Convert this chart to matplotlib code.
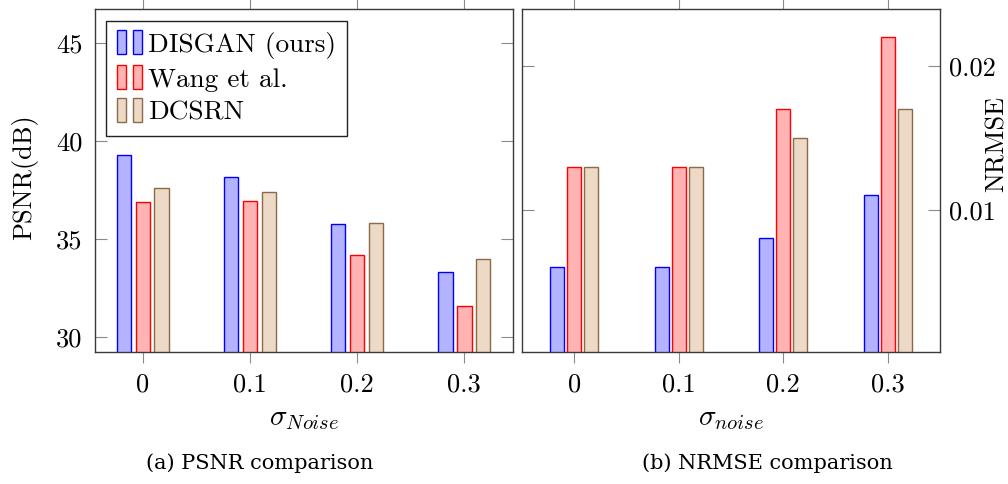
import matplotlib
matplotlib.use('Agg')
import matplotlib.pyplot as plt
from matplotlib.patches import Rectangle
from matplotlib.legend_handler import HandlerBase

## data
noise_levels = [0.0, 0.1, 0.2, 0.3]
noise_labels = ['0', '0.1', '0.2', '0.3']
methods = ['DISGAN (ours)', 'Wang et al.', 'DCSRN']

psnr_disgan = [39.32, 38.16, 35.77, 33.35]
psnr_wang = [36.92, 36.94, 34.18, 31.61]
psnr_dcsrn = [37.62, 37.41, 35.82, 34.01]

nrmse_disgan = [0.006, 0.006, 0.008, 0.011]
nrmse_wang = [0.013, 0.013, 0.017, 0.022]
nrmse_dcsrn = [0.013, 0.013, 0.015, 0.017]

psnr_ticks = [30, 35, 40, 45]
nrmse_ticks = [0.01, 0.02]
nrmse_tick_labels = ['0.01', '0.02']

## estilos
fills = ['#b3b3ff', '#ffb3b3', '#ecd9c6']
edges = ['#0000ff', '#ff0000', '#8c6a48']

plt.rcParams['mathtext.fontset'] = 'cm'
plt.rcParams['font.family'] = ['cmr10', 'DejaVu Serif']
plt.rcParams['axes.formatter.use_mathtext'] = True

FS = 19
tick_gray = '#8a8a8a'
spine_col = '#3a3a3a'


class BarPairHandler(HandlerBase):
    # dos barritas por entrada, como en pgfplots ybar
    def create_artists(self, legend, orig_handle, xdescent, ydescent,
                       width, height, fontsize, trans):
        fc = orig_handle.get_facecolor()
        ec = orig_handle.get_edgecolor()
        bw = width * 0.34
        bh = height * 1.25
        y0 = -ydescent - (bh - height) / 2
        out = []
        for x0 in (-xdescent, -xdescent + width - bw):
            r = Rectangle((x0, y0), bw, bh, facecolor=fc, edgecolor=ec,
                          linewidth=1.0, transform=trans)
            out.append(r)
        return out


def style_axes(ax, xlim, ylim):
    ax.set_xlim(*xlim)
    ax.set_ylim(*ylim)
    for s in ax.spines.values():
        s.set_color(spine_col)
        s.set_linewidth(1.0)
    ax.set_xticks(noise_levels)
    ax.set_xticklabels(noise_labels)
    ax.tick_params(axis='x', direction='out', length=8.2, width=0.8,
                   color=tick_gray, top=True, bottom=True, labelsize=FS, pad=7)
    ax.tick_params(axis='y', direction='in', length=8.4, width=0.8,
                   color=tick_gray, left=True, right=True, labelsize=FS)


def draw_bars(ax, series, shift, width):
    bars = []
    for i, vals in enumerate(series):
        xs = [x + (i - 1) * shift for x in noise_levels]
        b = ax.bar(xs, vals, width=width, color=fills[i], edgecolor=edges[i],
                   linewidth=1.0, label=methods[i], zorder=2)
        bars.append(b)
    return bars


fig = plt.figure(figsize=(10.08, 4.84), dpi=100)
ax1 = fig.add_axes([95 / 1008, 1 - 352 / 484, 418 / 1008, 342.7 / 484])
ax2 = fig.add_axes([522 / 1008, 1 - 352 / 484, 418 / 1008, 342.7 / 484])

## (a) PSNR
draw_bars(ax1, [psnr_disgan, psnr_wang, psnr_dcsrn], 0.0177, 0.0134)
style_axes(ax1, (-0.0445, 0.3454), (29.25, 46.73))
ax1.set_yticks(psnr_ticks)
ax1.set_yticklabels([str(t) for t in psnr_ticks])
ax1.tick_params(axis='y', pad=9, labelleft=True, labelright=False)
ax1.set_ylabel('PSNR(dB)', fontsize=FS)
ax1.yaxis.set_label_coords(-0.136, 0.51)
ax1.set_xlabel(r'$\sigma_{Noise}$', fontsize=21, labelpad=6)

handles = [Rectangle((0, 0), 1, 1, facecolor=fills[i], edgecolor=edges[i]) for i in range(3)]
leg = ax1.legend(handles, methods, loc='upper left', fontsize=19.6,
                 handler_map={Rectangle: BarPairHandler()},
                 handlelength=0.9, handletextpad=0.22, labelspacing=0.33,
                 borderpad=0.4, borderaxespad=0.42, fancybox=False,
                 framealpha=1.0, edgecolor='#222222')
leg.get_frame().set_linewidth(1.0)

## (b) NRMSE
draw_bars(ax2, [nrmse_disgan, nrmse_wang, nrmse_dcsrn], 0.0163, 0.0134)
style_axes(ax2, (-0.0501, 0.35), (0.00008, 0.02396))
ax2.set_yticks(nrmse_ticks)
ax2.set_yticklabels(nrmse_tick_labels)
ax2.tick_params(axis='y', pad=6.5, labelleft=False, labelright=True)
ax2.yaxis.set_label_position('right')
ax2.set_ylabel('NRMSE', fontsize=FS)
ax2.yaxis.set_label_coords(1.1077, 0.607)
ax2.set_xlabel(r'$\sigma_{noise}$', fontsize=21, labelpad=6)

## subtitulos
fig.text(260 / 1008, 1 - 463 / 484, '(a) PSNR comparison', fontsize=15,
         family='DejaVu Serif', ha='center', va='center')
fig.text(767 / 1008, 1 - 463 / 484, '(b) NRMSE comparison', fontsize=15,
         family='DejaVu Serif', ha='center', va='center')

fig.savefig('out.png', dpi=100)
